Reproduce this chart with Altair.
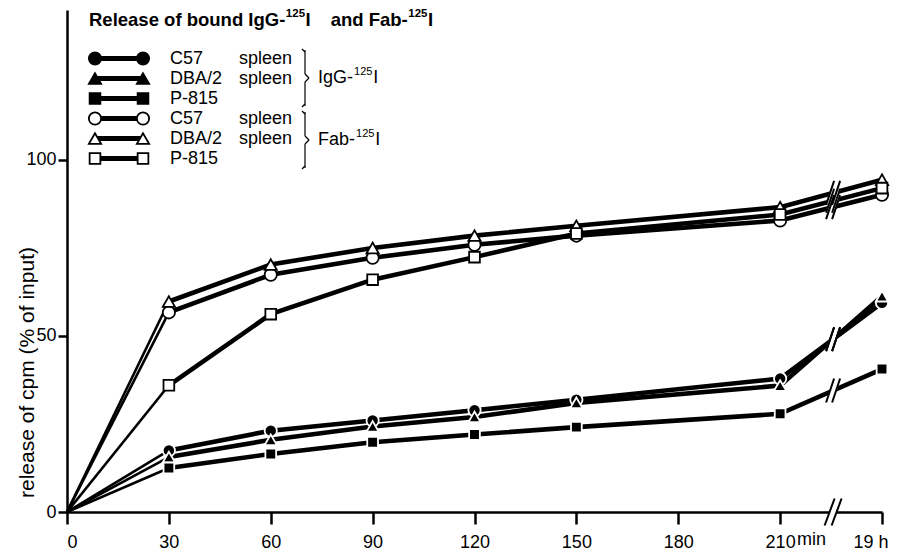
import altair as alt
import pandas as pd

# ---------------- data ----------------
time_min = [0, 30, 60, 90, 120, 150, 210, 240]   # 240 = position of the "19 h" point
igg_c57 = [0, 17.5, 23.1, 26.0, 28.9, 31.9, 37.9, 59.4]
igg_dba2 = [0, 15.6, 20.5, 24.3, 27.0, 31.0, 35.9, 61.3]
igg_p815 = [0, 12.5, 16.5, 19.8, 22.0, 24.1, 27.9, 40.6]
fab_c57 = [0, 56.7, 67.4, 72.2, 75.9, 78.5, 82.8, 90.1]
fab_dba2 = [0, 59.8, 70.3, 75.0, 78.5, 81.3, 86.6, 94.4]
fab_p815 = [0, 36.0, 56.2, 66.0, 72.4, 79.1, 84.5, 92.0]

series_names = ["IgG C57", "IgG DBA/2", "IgG P-815", "Fab C57", "Fab DBA/2", "Fab P-815"]
series_values = [igg_c57, igg_dba2, igg_p815, fab_c57, fab_dba2, fab_p815]
series_shapes = ["circle", "triangle-up", "square", "circle", "triangle-up", "square"]
series_filled = [True, True, True, False, False, False]

x_ticks = [0, 30, 60, 90, 120, 150, 180, 210, 240]
y_ticks = [0, 50, 100]

legend_col1 = ["C57", "DBA/2", "P-815", "C57", "DBA/2", "P-815"]
legend_col2 = ["spleen", "spleen", "", "spleen", "spleen", ""]
group_prefix = ["IgG-", "Fab-"]
isotope_mass = "125"
isotope_sym = "I"
title_parts = ["Release of bound IgG-", "and Fab-"]
y_title = "release of cpm (% of input)"

# ---------------- layout ----------------
FONT = "Liberation Sans"
W, H = 815, 502
PAD_L, PAD_T = 67, 10
X_MAX, Y_MAX = 240, 142.6
BREAK_X = 225.6
kx = X_MAX / W   # minutes per pixel
ky = Y_MAX / H   # units per pixel

# Arial/Helvetica advance widths (per em) used to place superscripts
_REG = {" ": .278, "-": .333, "/": .278, "I": .278, "g": .556, "G": .778, "F": .611,
        "a": .556, "b": .556, "R": .722, "e": .556, "l": .222, "s": .5, "o": .556,
        "f": .278, "u": .556, "n": .556, "d": .556}
_BOLD = {" ": .278, "-": .333, "I": .278, "g": .611, "G": .778, "F": .611, "a": .556,
         "b": .611, "R": .722, "e": .556, "l": .278, "s": .556, "o": .611, "f": .333,
         "u": .611, "n": .611, "d": .611}


def tw(s, size, bold=False):
    tab = _BOLD if bold else _REG
    return sum(tab.get(c, .556) for c in s) * size


def px(x):
    return x - PAD_L


def py(y):
    return y - PAD_T


size_of = {"circle": 150, "triangle-up": 150, "square": 115}

rows = []
for name, vals, shp, fil in zip(series_names, series_values, series_shapes, series_filled):
    for t, v in zip(time_min, vals):
        rows.append({"series": name, "t": t, "v": v, "shape": shp,
                     "fill": "black" if fil else "white",
                     "stroke": "white" if fil else "black",
                     "msize": size_of[shp]})
df = pd.DataFrame(rows)

# break marks, positioned on each line by interpolation between 210 min and 19 h
brk = []
frac = (BREAK_X - time_min[-2]) / (time_min[-1] - time_min[-2])
centers = [(vals[-2] + (vals[-1] - vals[-2]) * frac, 4.0, 12.0, 3.0) for vals in series_values]
centers.append((0.0, 5.0, 13.5, 3.5))  # break on the x axis
for yb, hdx, hdy, off in centers:
    brk.append({"kind": "band", "x1": BREAK_X - hdx * kx, "x2": BREAK_X + hdx * kx,
                "y1": yb - hdy * ky, "y2": yb + hdy * ky})
    for s in (-1, 1):
        xc = BREAK_X + s * off * kx
        brk.append({"kind": "slash", "x1": xc - hdx * kx, "x2": xc + hdx * kx,
                    "y1": yb - hdy * ky, "y2": yb + hdy * ky})
brk_df = pd.DataFrame(brk)

xscale = alt.Scale(domain=[0, X_MAX], nice=False, zero=False)
yscale = alt.Scale(domain=[0, Y_MAX], nice=False, zero=False)

xaxis = alt.Axis(values=x_ticks, title=None, grid=False,
                 labelExpr="datum.value == 240 ? '19 h' : datum.label",
                 labelOffset={"condition": {"test": "datum.value == 240", "value": 6}, "value": 0},
                 domainColor="black", domainWidth=2.5, tickColor="black", tickWidth=2.5,
                 tickSize=12, labelFont=FONT, labelFontSize=18, labelColor="black",
                 labelPadding=9)
yaxis = alt.Axis(values=y_ticks, title=y_title, grid=False,
                 domainColor="black", domainWidth=2.5, tickColor="black", tickWidth=2.5,
                 tickSize=9, labelFont=FONT, labelFontSize=18, labelColor="black",
                 labelPadding=2, titleFont=FONT, titleFontSize=21, titleFontWeight="normal",
                 titleColor="black", titleAngle=270, titleX=-40, titleY=362,
                 titleAlign="center", titleBaseline="middle")

base = alt.Chart(df)
enc = dict(x=alt.X("t:Q", scale=xscale, axis=xaxis),
           y=alt.Y("v:Q", scale=yscale, axis=yaxis),
           detail="series:N", order="t:Q")
lines_early = base.transform_filter("datum.t <= 30").mark_line(
    color="black", strokeWidth=2.6).encode(**enc)
lines_late = base.transform_filter("datum.t >= 30").mark_line(
    color="black", strokeWidth=4.6).encode(**enc)

bands = alt.Chart(brk_df).transform_filter("datum.kind == 'band'").mark_rule(
    color="white", strokeWidth=7).encode(
    x=alt.X("x1:Q", scale=xscale), x2="x2:Q",
    y=alt.Y("y1:Q", scale=yscale), y2="y2:Q")
slashes = alt.Chart(brk_df).transform_filter("datum.kind == 'slash'").mark_rule(
    color="black", strokeWidth=2).encode(
    x=alt.X("x1:Q", scale=xscale), x2="x2:Q",
    y=alt.Y("y1:Q", scale=yscale), y2="y2:Q")

points = base.transform_filter("datum.t > 0").mark_point(
    filled=True, strokeWidth=1.8, opacity=1).encode(
    x=alt.X("t:Q", scale=xscale),
    y=alt.Y("v:Q", scale=yscale),
    shape=alt.Shape("shape:N", scale=None),
    fill=alt.Fill("fill:N", scale=None),
    stroke=alt.Stroke("stroke:N", scale=None),
    size=alt.Size("msize:Q", scale=None),
)

one = pd.DataFrame({"k": [0]})
layers = [lines_early, lines_late, bands, slashes, points]


def text_at(txt, x_abs, y_abs, size=18, bold=False):
    return alt.Chart(one).mark_text(
        text=txt, align="left", baseline="middle", font=FONT, fontSize=size,
        fontWeight="bold" if bold else "normal", color="black").encode(
        x=alt.value(px(x_abs)), y=alt.value(py(y_abs)))


# "min" after the 210 label
layers.append(text_at("min", 797, 540))

# title with superscripts
TS, SS = 18.5, 11.5
xcur = 89
for k, part in enumerate(title_parts):
    if k == 1:
        xcur += 20
    layers.append(text_at(part, xcur, 20, TS, True))
    xcur += tw(part, TS, True)
    layers.append(text_at(isotope_mass, xcur + 0.5, 14, SS, True))
    xcur += tw(isotope_mass, SS, True) + 1
    layers.append(text_at(isotope_sym, xcur, 20, TS, True))
    xcur += tw(isotope_sym, TS, True)

# legend
for i in range(6):
    yi = 58.5 + 20 * i
    shp = series_shapes[i]
    fil = "black" if series_filled[i] else "white"
    layers.append(alt.Chart(one).mark_rule(color="black", strokeWidth=5).encode(
        x=alt.value(px(95)), x2=alt.value(px(143)), y=alt.value(py(yi))))
    for xm in (95, 143):
        layers.append(alt.Chart(one).mark_point(shape=shp, filled=True, fill=fil, stroke="black",
                                                strokeWidth=1.8, size=size_of[shp], opacity=1).encode(
            x=alt.value(px(xm)), y=alt.value(py(yi))))
    layers.append(text_at(legend_col1[i], 170, yi))
    if legend_col2[i]:
        layers.append(text_at(legend_col2[i], 239, yi))

# braces and group labels
for g in range(2):
    top = 50 + 62 * g
    bot = top + 56
    mid = (top + bot) / 2
    segs = [(305, top, 305, mid - 4), (305, mid - 4, 309, mid), (309, mid, 305, mid + 4),
            (305, mid + 4, 305, bot), (302, top - 1, 305, top + 2), (305, bot - 2, 302, bot + 1)]
    for (a, b, c, d) in segs:
        layers.append(alt.Chart(one).mark_rule(color="black", strokeWidth=1.2).encode(
            x=alt.value(px(a)), y=alt.value(py(b)), x2=alt.value(px(c)), y2=alt.value(py(d))))
    xg = 318
    layers.append(text_at(group_prefix[g], xg, mid))
    xg += tw(group_prefix[g], 18) + 1
    layers.append(text_at(isotope_mass, xg, mid - 6, 11))
    xg += tw(isotope_mass, 11) + 1
    layers.append(text_at(isotope_sym, xg, mid))

chart = alt.layer(*layers).properties(
    width=W, height=H,
    autosize=alt.AutoSizeParams(type="none"),
    padding={"left": PAD_L, "top": PAD_T, "right": 913 - PAD_L - W, "bottom": 556 - PAD_T - H},
    background="white",
).configure_view(stroke=None)

chart.save("out.html", embed_options={"renderer": "svg", "actions": False})
